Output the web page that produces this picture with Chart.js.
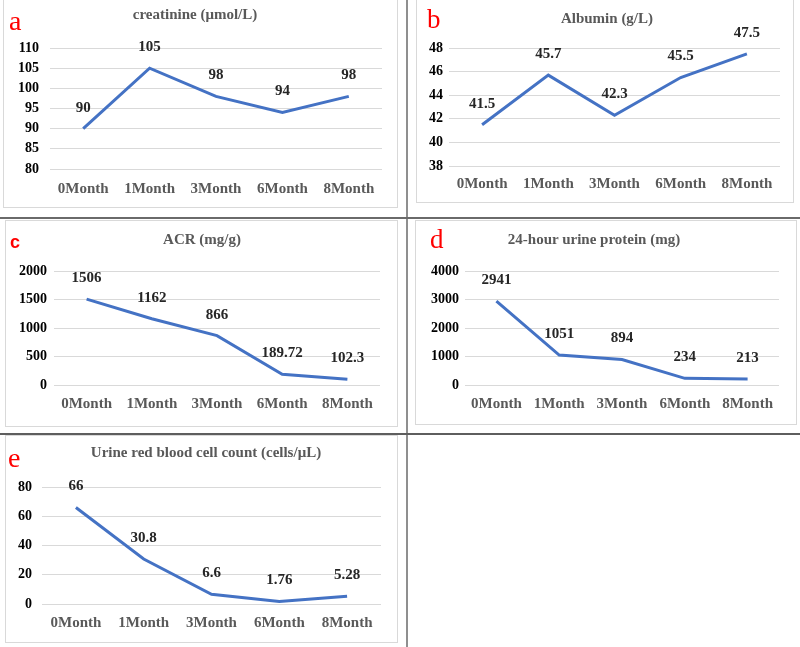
<!DOCTYPE html>
<html>
<head>
<meta charset="utf-8">
<script src="https://cdn.jsdelivr.net/npm/chart.js@4.4.1/dist/chart.umd.min.js"></script>
<style>
  html, body { margin:0; padding:0; background:#fff; }
  #page { position:relative; width:800px; height:647px; overflow:hidden; background:#fff; }
  .frame { position:absolute; border:1px solid #d9d9d9; box-sizing:border-box; }
  .holder { position:absolute; }
  .title { position:absolute; width:400px; text-align:center; font-family:"Liberation Serif","Times New Roman",serif; font-weight:bold; color:#595959; white-space:nowrap; }
  .letter { position:absolute; color:#ff0000; white-space:nowrap; }
  .sep { position:absolute; }
</style>
</head>
<body>
<div id="page"></div>
<script>
// ---------- data ----------
const months = ['0Month', '1Month', '3Month', '6Month', '8Month'];
const creatinine = [90, 105, 98, 94, 98];
const albumin = [41.5, 45.7, 42.3, 45.5, 47.5];
const acr = [1506, 1162, 866, 189.72, 102.3];
const urineProtein24h = [2941, 1051, 894, 234, 213];
const urineRBC = [66, 30.8, 6.6, 1.76, 5.28];

const titles = ['creatinine (\u03bcmol/L)', 'Albumin (g/L)', 'ACR (mg/g)', '24-hour urine protein (mg)', 'Urine red blood cell count (cells/\u03bcL)'];
const letters = ['a', 'b', 'c', 'd', 'e'];
const yMin = [80, 38, 0, 0, 0];
const yMax = [110, 48, 2000, 4000, 80];
const yStep = [5, 2, 500, 1000, 20];
const seriesList = [creatinine, albumin, acr, urineProtein24h, urineRBC];

// ---------- layout ----------
const panels = [
  { box:[3,-1,398,208],   area:[50,48,382,169],   tickPad:11, xPad:11, titleX:195, titleBase:20,
    letterX:9,   letterBase:30,  letterFont:'28px "Liberation Serif", serif', letterSize:28, asc:0.8375 },
  { box:[416,-1,794,203], area:[449,48,780,166],  tickPad:6,  xPad:9,  titleX:607, titleBase:24,
    letterX:427, letterBase:29,  letterFont:'27px "Liberation Serif", serif', letterSize:27, asc:0.8375 },
  { box:[5,220,398,427],  area:[54,271,380,385],  tickPad:7,  xPad:10, titleX:202, titleBase:245,
    letterX:10,  letterBase:248, letterFont:'bold 18px "Liberation Sans", sans-serif', letterSize:18, asc:0.8465 },
  { box:[415,220,797,425],area:[465,271,779,385], tickPad:6,  xPad:10, titleX:594, titleBase:245,
    letterX:430, letterBase:249, letterFont:'27px "Liberation Serif", serif', letterSize:27, asc:0.8375 },
  { box:[5,435,398,643],  area:[42,487,381,604],  tickPad:10, xPad:10, titleX:206, titleBase:458,
    letterX:8,   letterBase:467, letterFont:'28px "Liberation Serif", serif', letterSize:28, asc:0.8375 }
];

const page = document.getElementById('page');

// separator lines
function sep(l, t, w, h, c) {
  const d = document.createElement('div');
  d.className = 'sep';
  d.style.cssText = `left:${l}px;top:${t}px;width:${w}px;height:${h}px;background:${c};`;
  page.appendChild(d);
}

const pointLabels = {
  id: 'pointLabels',
  afterDatasetsDraw(chart) {
    const ctx = chart.ctx;
    const meta = chart.getDatasetMeta(0);
    const ds = chart.data.datasets[0];
    ctx.save();
    ctx.font = 'bold 15px "Liberation Serif", serif';
    ctx.fillStyle = '#262626';
    ctx.textAlign = 'center';
    ctx.textBaseline = 'middle';
    meta.data.forEach((pt, i) => {
      ctx.fillText(String(ds.data[i]), pt.x, pt.y - 21);
    });
    ctx.restore();
  }
};

const TITLE_SIZE = 15;

panels.forEach((p, i) => {
  const [bl, bt, br, bb] = p.box;
  const [al, at, ar, ab] = p.area;
  const W = br - bl, H = bb - bt;

  const frame = document.createElement('div');
  frame.className = 'frame';
  frame.style.cssText = `left:${bl}px;top:${bt}px;width:${W}px;height:${H}px;`;
  page.appendChild(frame);

  const holder = document.createElement('div');
  holder.className = 'holder';
  holder.style.cssText = `left:${bl}px;top:${bt}px;width:${W}px;height:${H}px;`;
  const cv = document.createElement('canvas');
  holder.appendChild(cv);
  page.appendChild(holder);

  const t = document.createElement('div');
  t.className = 'title';
  t.textContent = titles[i];
  t.style.fontSize = TITLE_SIZE + 'px';
  t.style.lineHeight = TITLE_SIZE + 'px';
  t.style.left = (p.titleX - 200) + 'px';
  t.style.top = (p.titleBase - 0.8375 * TITLE_SIZE) + 'px';
  page.appendChild(t);

  const L = document.createElement('div');
  L.className = 'letter';
  L.textContent = letters[i];
  L.style.font = p.letterFont;
  L.style.lineHeight = p.letterSize + 'px';
  L.style.left = p.letterX + 'px';
  L.style.top = (p.letterBase - p.asc * p.letterSize) + 'px';
  page.appendChild(L);

  const yW = al - bl;
  const xH = bb - ab;

  new Chart(cv, {
    type: 'line',
    data: {
      labels: months,
      datasets: [{
        data: seriesList[i],
        borderColor: '#4472C4',
        borderWidth: 3,
        pointRadius: 0,
        pointHoverRadius: 0,
        tension: 0,
        fill: false,
        clip: false
      }]
    },
    options: {
      responsive: true,
      maintainAspectRatio: false,
      animation: false,
      events: [],
      layout: { padding: { left: 0, top: at - bt, right: br - ar, bottom: 0 } },
      plugins: { legend: { display: false }, title: { display: false }, tooltip: { enabled: false } },
      scales: {
        x: {
          offset: true,
          grid: { display: false, drawTicks: false },
          border: { display: false },
          ticks: {
            color: '#595959',
            padding: p.xPad,
            maxRotation: 0,
            autoSkip: false,
            font: { family: '"Liberation Serif", serif', size: 15, weight: 'bold' }
          },
          afterFit: s => { s.height = xH; }
        },
        y: {
          min: yMin[i],
          max: yMax[i],
          grid: { color: '#d9d9d9', lineWidth: 1, drawTicks: false },
          border: { display: false },
          ticks: {
            stepSize: yStep[i],
            color: '#000000',
            padding: p.tickPad,
            callback: v => String(v),
            font: { family: '"Liberation Serif", serif', size: 14, weight: 'bold' }
          },
          afterFit: s => { s.width = yW; }
        }
      }
    },
    plugins: [pointLabels]
  });
});

sep(406, 0, 2, 647, '#8f8f8f');
sep(0, 217, 800, 2, '#6a6a6a');
sep(0, 433, 800, 2, '#5e5e5e');
</script>
</body>
</html>
